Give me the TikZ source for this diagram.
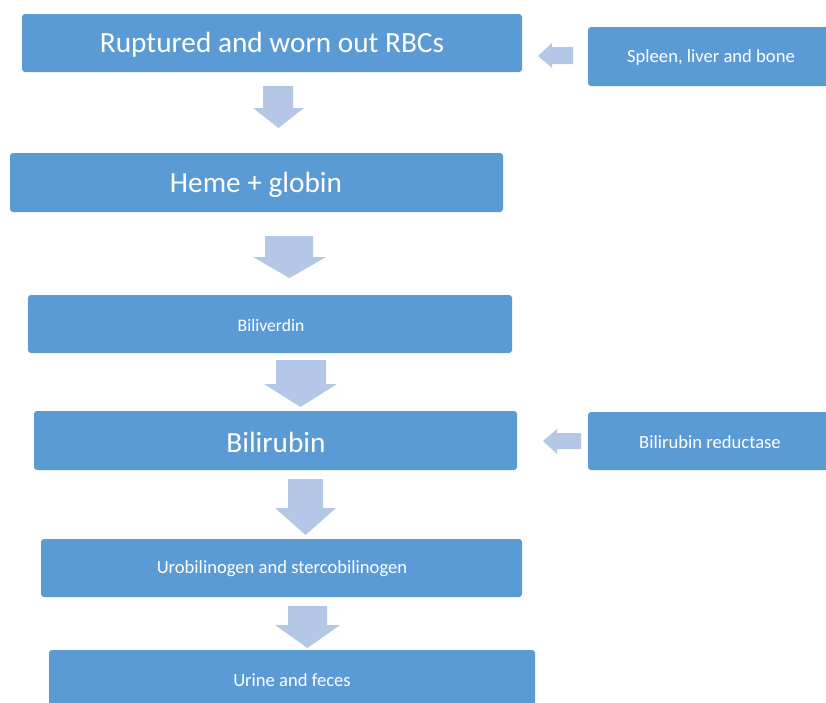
\documentclass[tikz,border=0pt]{standalone}
\usepackage{fontspec}
\setmainfont{Carlito}
\definecolor{boxblue}{HTML}{5B9BD5}
\definecolor{arrblue}{HTML}{B4C7E7}
\begin{document}
\begin{tikzpicture}[x=1pt,y=-1pt,
  box/.style={fill=boxblue, rounded corners=3pt},
  bigtext/.style={text=white, font=\fontsize{29.3}{34}\selectfont},
  smalltext/.style={text=white, font=\fontsize{18.6}{22}\selectfont},
  blockarrow/.style={fill=arrblue}]
\useasboundingbox (0,0) rectangle (826,702);
\clip (0,0) rectangle (826,702);
% boxes
\path[box] (22,14) rectangle (522,72);
\node[bigtext] (rbc) at (272,44.5) {Ruptured and worn out RBCs};
\path[box] (588,27) rectangle (836,86);
\node[smalltext] (spleen) at (711,58) {Spleen, liver and bone};
\path[box] (10,153) rectangle (503,212);
\node[bigtext] (heme) at (256,184.5) {Heme + globin};
\path[box] (28,295) rectangle (512,353);
\node[text=white, font=\fontsize{17.6}{21}\selectfont] (biliv) at (271,325) {Biliverdin};
\path[box] (34,411) rectangle (517,470);
\node[bigtext] (bilir) at (276,442.5) {Bilirubin};
\path[box] (588,412) rectangle (836,470);
\node[smalltext] (red) at (710,442) {Bilirubin reductase};
\path[box] (41,539) rectangle (522,597);
\node[smalltext] (uro) at (282,569) {Urobilinogen and stercobilinogen};
\path[box] (49,650) rectangle (535,712);
\node[smalltext] (urine) at (292,680) {Urine and feces};
% down block arrows
\fill[blockarrow] (263,86) -- (293,86) -- (293,108) -- (304,108) -- (278.5,128) -- (253,108) -- (263,108) -- cycle;
\fill[blockarrow] (265,236) -- (313,236) -- (313,257) -- (326,257) -- (289.5,278) -- (253,257) -- (265,257) -- cycle;
\fill[blockarrow] (276,360) -- (326,360) -- (326,384) -- (337,384) -- (300.5,407) -- (264,384) -- (276,384) -- cycle;
\fill[blockarrow] (288,479) -- (323,479) -- (323,508) -- (336,508) -- (305.5,535) -- (275,508) -- (288,508) -- cycle;
\fill[blockarrow] (288,606) -- (327,606) -- (327,625) -- (340,625) -- (307.5,648) -- (275,625) -- (288,625) -- cycle;
% left block arrows
\fill[blockarrow] (573,47) -- (573,64) -- (552,64) -- (552,68) -- (538,56) -- (552,43) -- (552,47) -- cycle;
\fill[blockarrow] (581,433) -- (581,449) -- (557,449) -- (557,454) -- (543,441) -- (557,429) -- (557,433) -- cycle;
\end{tikzpicture}
\end{document}
